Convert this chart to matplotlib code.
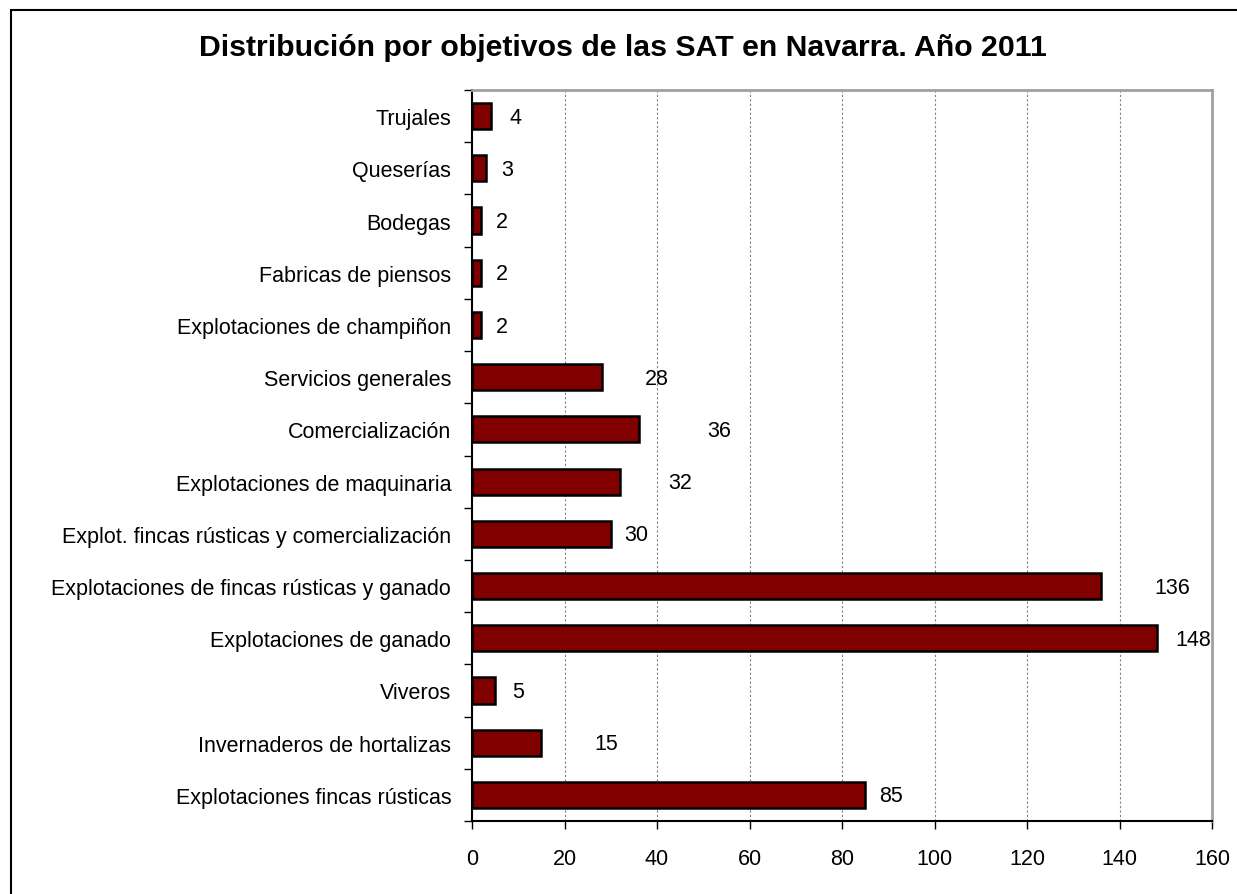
import matplotlib
matplotlib.use("Agg")
import matplotlib.pyplot as plt
from matplotlib.patches import Rectangle
from matplotlib.ticker import FixedLocator, NullFormatter

plt.rcParams["font.family"] = ["Liberation Sans", "DejaVu Sans"]

# bottom to top, as drawn
categories = [
    "Explotaciones fincas rústicas",
    "Invernaderos de hortalizas",
    "Viveros",
    "Explotaciones de ganado",
    "Explotaciones de fincas rústicas y ganado",
    "Explot. fincas rústicas y comercialización",
    "Explotaciones de maquinaria",
    "Comercialización",
    "Servicios generales",
    "Explotaciones de champiñon",
    "Fabricas de piensos",
    "Bodegas",
    "Queserías",
    "Trujales",
]
values = [85, 15, 5, 148, 136, 30, 32, 36, 28, 2, 2, 2, 3, 4]
xticks = [0, 20, 40, 60, 80, 100, 120, 140, 160]
title = "Distribución por objetivos de las SAT en Navarra. Año 2011"

# label gaps past the bar end (data units), Excel placed them unevenly
label_gap = [5.5, 14, 5, 8, 15.5, 5.5, 13, 17.5, 12, 4.5, 4.5, 4.5, 4.5, 5.3]

W, H = 1237, 895
FS = 15.5
fig = plt.figure(figsize=(W / 100, H / 100), dpi=100)
ax = fig.add_axes([472 / W, 1 - 822 / H, (1212 - 472) / W, (822 - 91) / H])

# outer chart border (only left/top edges are in frame)
fig.patches.append(Rectangle((11 / W, -0.1), 2, 1 - 11 / H + 0.1, transform=fig.transFigure,
                             fill=False, edgecolor="black", linewidth=1.5))

y = list(range(len(categories)))
ax.barh(y, values, height=0.5, color="#800000", edgecolor="black", linewidth=1.8, zorder=3)

for yi, v, g in zip(y, values, label_gap):
    ax.text(v + g, yi - 0.02, str(v), ha="center", va="center", fontsize=FS, color="black")

ax.set_xlim(0, 160)
ax.set_ylim(-0.5, len(categories) - 0.5)
ax.xaxis.set_major_locator(FixedLocator(xticks))
ax.set_xticklabels([str(t) for t in xticks], fontsize=FS)
ax.set_yticks(y)
ax.set_yticklabels(categories, fontsize=FS)
ax.tick_params(axis="y", which="major", length=0, pad=15)
ax.yaxis.set_minor_locator(FixedLocator([i - 0.5 for i in range(len(categories) + 1)]))
ax.yaxis.set_minor_formatter(NullFormatter())
ax.tick_params(axis="y", which="minor", length=6, width=1, direction="out")
ax.tick_params(axis="x", which="major", length=6, width=1, direction="out", pad=13.5)

ax.grid(axis="x", linestyle=(0, (2, 2)), color="#808080", linewidth=0.8, zorder=0)
ax.spines["left"].set_color("black")
ax.spines["bottom"].set_color("black")
ax.spines["left"].set_linewidth(1.5)
ax.spines["bottom"].set_linewidth(1.5)
ax.spines["top"].set_color("#a0a0a0")
ax.spines["right"].set_color("#a0a0a0")
ax.spines["top"].set_linewidth(2)
ax.spines["right"].set_linewidth(2)

fig.text(623 / W, 1 - 48 / H, title, ha="center", va="center", fontsize=21.8, fontweight="bold")

fig.savefig("out.png", dpi=100, facecolor="white")
